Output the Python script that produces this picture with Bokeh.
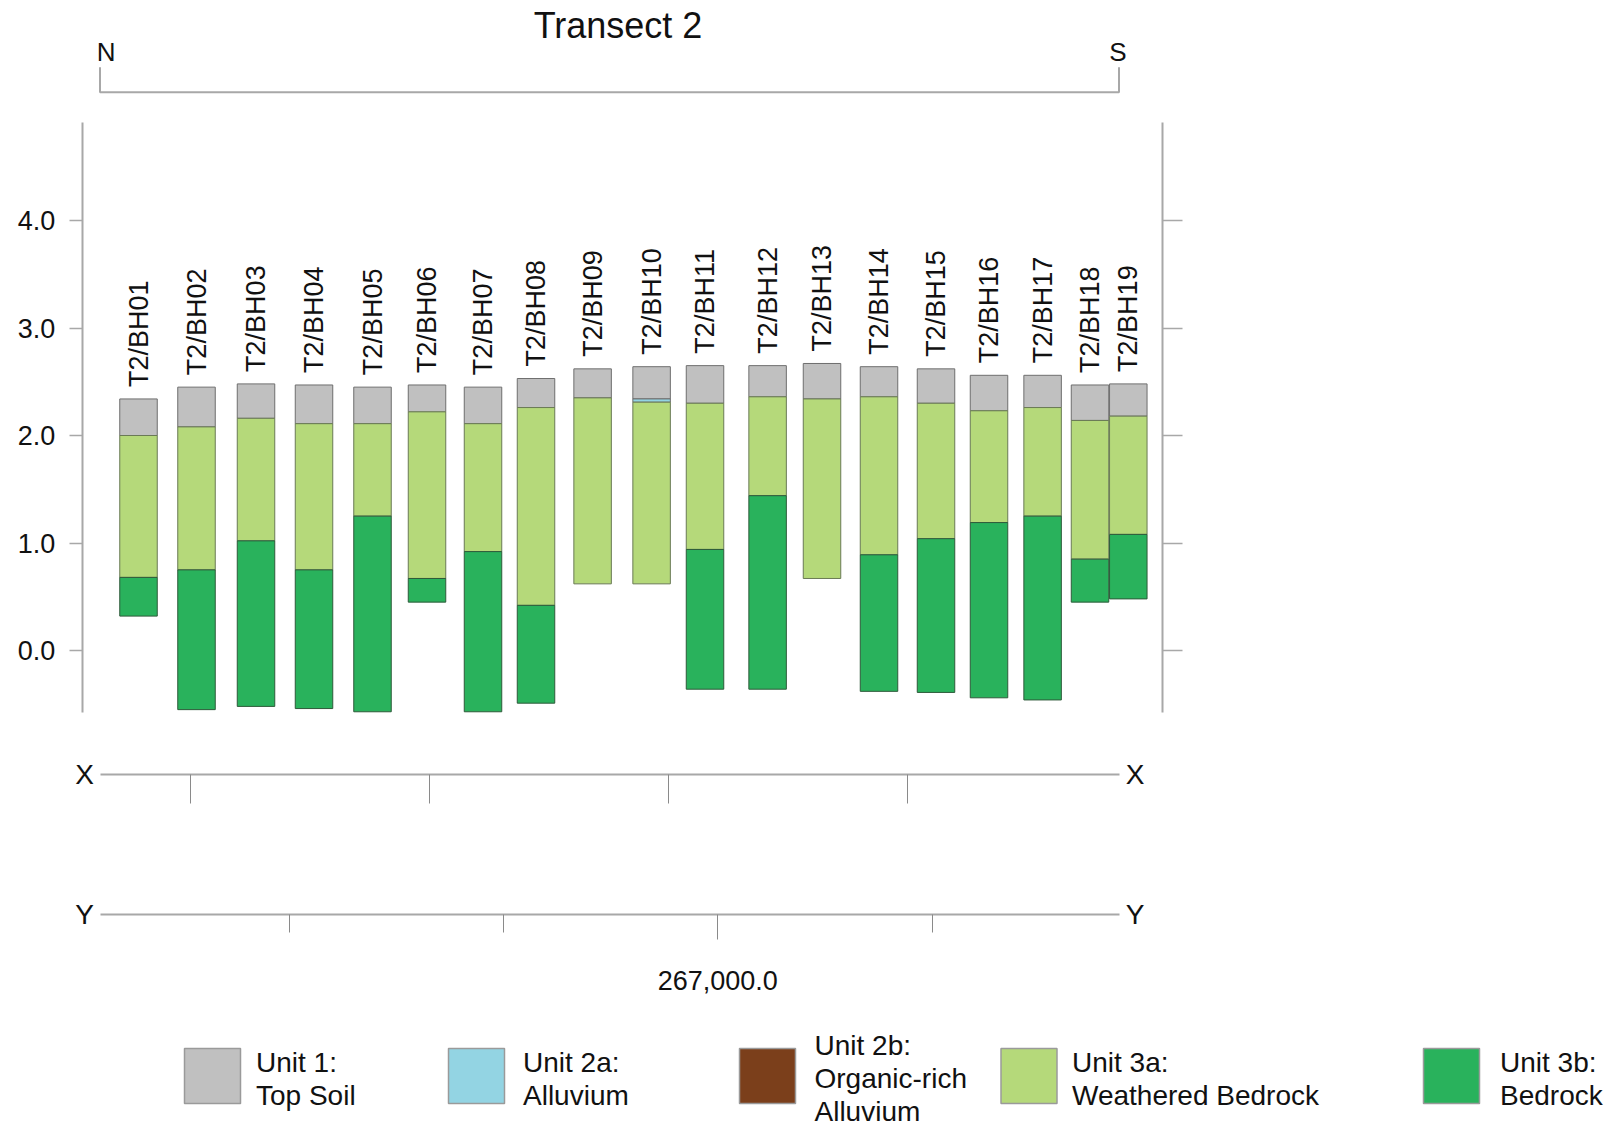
import math
from bokeh.plotting import figure
from bokeh.models import (ColumnDataSource, Range1d, LinearAxis, FixedTicker,
                          NumeralTickFormatter)
from bokeh.core.properties import value
from bokeh.embed import file_html
from bokeh.resources import INLINE

# ---------------- data ----------------
boreholes = ["T2/BH01", "T2/BH02", "T2/BH03", "T2/BH04", "T2/BH05", "T2/BH06",
             "T2/BH07", "T2/BH08", "T2/BH09", "T2/BH10", "T2/BH11", "T2/BH12",
             "T2/BH13", "T2/BH14", "T2/BH15", "T2/BH16", "T2/BH17", "T2/BH18",
             "T2/BH19"]
# distance along transect from N end (m)
chainage = [38.5, 96.5, 156.0, 214.0, 272.5, 327.0, 383.0, 436.0, 492.6, 551.6,
            605.0, 667.6, 722.0, 779.0, 836.0, 889.0, 942.6, 990.0, 1028.3]
transect_length = 1019.0
# elevations (m) of unit interfaces
ground_level = [2.34, 2.45, 2.48, 2.47, 2.45, 2.47, 2.45, 2.53, 2.62, 2.64,
                2.65, 2.65, 2.67, 2.64, 2.62, 2.56, 2.56, 2.47, 2.48]
base_unit1 = [2.00, 2.08, 2.16, 2.11, 2.11, 2.22, 2.11, 2.26, 2.35, 2.34,
              2.30, 2.36, 2.34, 2.36, 2.30, 2.23, 2.26, 2.14, 2.18]
base_unit2a = [None, None, None, None, None, None, None, None, None, 2.31,
               None, None, None, None, None, None, None, None, None]
base_unit3a = [0.68, 0.75, 1.02, 0.75, 1.25, 0.67, 0.92, 0.42, 0.62, 0.62,
               0.94, 1.44, 0.67, 0.89, 1.04, 1.19, 1.25, 0.85, 1.08]
base_unit3b = [0.32, -0.55, -0.52, -0.54, -0.57, 0.45, -0.57, -0.49, None, None,
               -0.36, -0.36, None, -0.38, -0.39, -0.44, -0.46, 0.45, 0.48]

elev_ticks = [0.0, 1.0, 2.0, 3.0, 4.0]
northing_major = [267000.0]
northing_minor = [267100.0, 267050.0, 266950.0]
easting_ticks_chainage = [90.0, 329.0, 568.0, 807.0]

legend_labels = ["Unit 1:\nTop Soil", "Unit 2a:\nAlluvium",
                 "Unit 2b:\nOrganic-rich\nAlluvium", "Unit 3a:\nWeathered Bedrock",
                 "Unit 3b:\nBedrock"]
unit_colors = ["#c0c0c0", "#93d4e3", "#7b3f1b", "#b5d97a", "#29b25c"]

# ---------------- layout helpers (image pixel coords) ----------------
W, H = 1609, 1128
PX_PER_M = 107.5
ZERO_Y = 650.0          # image y of elevation 0
N_X = 99.5              # image x of chainage 0


def ey(py):
    return (ZERO_Y - py) / PX_PER_M


def cx(px):
    return px - N_X


FONT = value("Liberation Sans")
GRAY = "#a8a8a8"
TXT = "#111111"

p = figure(width=W, height=H, output_backend="svg", toolbar_location=None,
           x_axis_type=None, y_axis_type=None, min_border=0,
           x_range=Range1d(cx(0), cx(W)), y_range=Range1d(ey(H), ey(0)))
p.outline_line_color = None
p.background_fill_color = "white"
p.border_fill_color = "white"
p.xgrid.visible = False
p.ygrid.visible = False

# northing range for the Y coordinate line (N decreases towards S)
m_per_px = 50.0 / 214.2
major_c = cx(717.3)
def northing(c):
    return 267000.0 + (major_c - c) * m_per_px
p.extra_x_ranges = {"northing": Range1d(northing(cx(0)), northing(cx(W)))}

# ---------------- elevation axes ----------------
ax_bottom, ax_top = ey(711.7), ey(121.7)
for side, loc, tick in (("left", cx(81.7), 13), ("right", cx(1161.7), 20)):
    ax = LinearAxis(fixed_location=loc, bounds=(ax_bottom, ax_top),
                    ticker=FixedTicker(ticks=elev_ticks),
                    formatter=NumeralTickFormatter(format="0.0"))
    ax.axis_line_color = GRAY
    ax.axis_line_width = 2
    ax.major_tick_line_color = GRAY
    ax.major_tick_line_width = 1.5
    ax.major_tick_out = tick
    ax.major_tick_in = 0
    ax.minor_tick_out = 0
    ax.minor_tick_in = 0
    ax.major_label_text_font = "Liberation Sans"
    ax.major_label_text_font_size = "27px"
    ax.major_label_text_color = TXT if side == "left" else None
    ax.major_label_standoff = 14
    p.add_layout(ax, side)

# ---------------- borehole columns ----------------
BAR_W = 37.5
lefts = [c - BAR_W / 2 for c in chainage]
rights = [c + BAR_W / 2 for c in chainage]

def add_unit(tops, bottoms, color, line):
    L, R, T, B = [], [], [], []
    for l, r, t, b in zip(lefts, rights, tops, bottoms):
        if t is None or b is None:
            continue
        L.append(l); R.append(r); T.append(t); B.append(b)
    src = ColumnDataSource(dict(left=L, right=R, top=T, bottom=B))
    p.quad(left="left", right="right", top="top", bottom="bottom", source=src,
           fill_color=color, line_color=line, line_width=1)

top_3a = [b2 if b2 is not None else b1 for b1, b2 in zip(base_unit1, base_unit2a)]
add_unit(ground_level, base_unit1, unit_colors[0], "#6e6e6e")
add_unit(base_unit1, base_unit2a, unit_colors[1], "#6e6e6e")
add_unit(top_3a, base_unit3a, unit_colors[3], "#6a7a55")
add_unit(base_unit3a, base_unit3b, unit_colors[4], "#2e5a3a")

# borehole names (rotated)
p.text(x=chainage, y=ground_level, text=boreholes, angle=math.pi / 2,
       text_align="left", text_baseline="middle", y_offset=-12,
       text_font=FONT, text_font_size=value("27px"), text_color=TXT)

# ---------------- title and N/S bracket ----------------
p.text(x=[cx(617.5)], y=[ey(25)], text=["Transect 2"], text_align="center",
       text_baseline="middle", text_font=FONT, text_font_size=value("36px"),
       text_color=TXT)
p.line(x=[0, 0, transect_length, transect_length],
       y=[ey(66.7), ey(91.7), ey(91.7), ey(66.7)], line_color=GRAY, line_width=2)
p.text(x=[cx(105.7), cx(1117.5)], y=[ey(51), ey(51)], text=["N", "S"],
       text_align="center", text_baseline="middle", text_font=FONT,
       text_font_size=value("26px"), text_color=TXT)

# ---------------- X / Y coordinate lines ----------------
xline_y, yline_y = ey(773.5), ey(913.5)
xax = LinearAxis(fixed_location=xline_y, bounds=(0, transect_length),
                 ticker=FixedTicker(ticks=easting_ticks_chainage))
xax.axis_line_color = GRAY
xax.axis_line_width = 2
xax.major_tick_line_color = "#8a8a8a"
xax.major_tick_line_width = 1
xax.major_tick_out = 29
xax.major_tick_in = 0
xax.minor_tick_out = 0
xax.major_label_text_color = None
p.add_layout(xax, "below")

yax = LinearAxis(x_range_name="northing", fixed_location=yline_y,
                 bounds=(northing(transect_length), northing(0)),
                 ticker=FixedTicker(ticks=northing_major, minor_ticks=northing_minor),
                 formatter=NumeralTickFormatter(format="0,0.0"))
yax.axis_line_color = GRAY
yax.axis_line_width = 2
yax.major_tick_line_color = "#8a8a8a"
yax.major_tick_line_width = 1
yax.minor_tick_line_color = "#8a8a8a"
yax.minor_tick_line_width = 1
yax.major_tick_out = 25
yax.major_tick_in = 0
yax.minor_tick_out = 18
yax.minor_tick_in = 0
yax.major_label_text_font = "Liberation Sans"
yax.major_label_text_font_size = "27px"
yax.major_label_text_color = TXT
yax.major_label_standoff = 32
p.add_layout(yax, "below")

p.text(x=[cx(84), cx(1134.7), cx(84), cx(1134.7)],
       y=[xline_y, xline_y, yline_y, yline_y], text=["X", "X", "Y", "Y"],
       text_align="center", text_baseline="middle", text_font=FONT,
       text_font_size=value("28px"), text_color=TXT)

# ---------------- legend ----------------
sw_left = [184, 448, 739, 1000.5, 1423]
tx_left = [255.5, 522.5, 814, 1071.5, 1499.5]
sw_cx = [cx(l + 28) for l in sw_left]
p.rect(x=sw_cx, y=[ey(1075.5)] * 5, width=56, height=55, width_units="screen",
       height_units="screen", fill_color=unit_colors, line_color="#9a9a9a",
       line_width=1.5)
lx, ly, lt = [], [], []
LINE_H = 33.0
for lab, tl in zip(legend_labels, tx_left):
    parts = lab.split("\n")
    n = len(parts)
    for i, part in enumerate(parts):
        lx.append(cx(tl))
        ly.append(ey(1078 + (i - (n - 1) / 2) * LINE_H))
        lt.append(part)
p.text(x=lx, y=ly, text=lt, text_align="left", text_baseline="middle",
       text_font=FONT, text_font_size=value("28px"), text_color=TXT)

open("out.html", "w").write(file_html(p, INLINE))
